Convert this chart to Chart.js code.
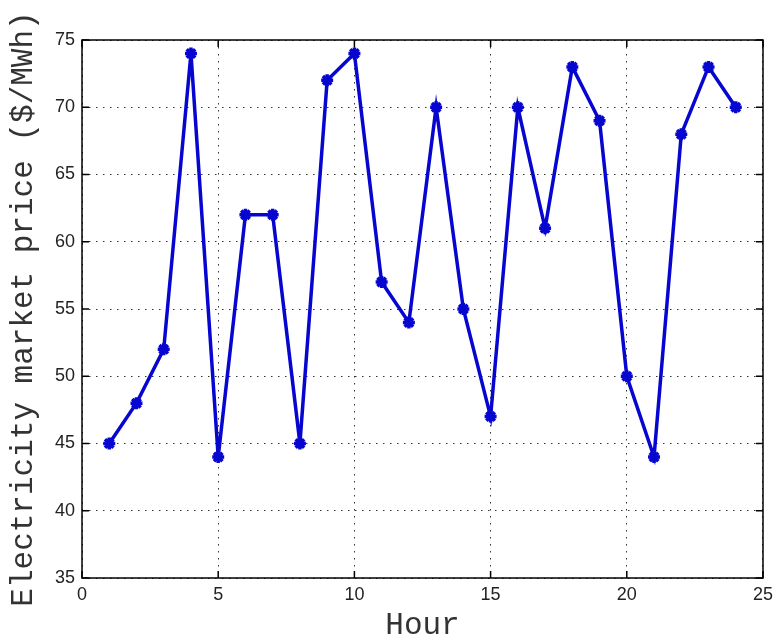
<!DOCTYPE html>
<html>
<head>
    <title>Electricity market price</title>
    <script src="https://cdn.jsdelivr.net/npm/chart.js"></script>
    <style>
        body {
            margin: 0;
            padding: 0;
            background: #fff;
        }
        canvas {
            display: block;
        }
    </style>
</head>
<body>
    <canvas id="myChart" width="779" height="644"></canvas>

    <script>
        const hours = [1, 2, 3, 4, 5, 6, 7, 8, 9, 10, 11, 12, 13, 14, 15, 16, 17, 18, 19, 20, 21, 22, 23, 24];
        const prices = [45, 48, 52, 74, 44, 62, 62, 45, 72, 74, 57, 54, 70, 55, 47, 70, 61, 73, 69, 50, 44, 68, 73, 70];
        const xTicks = [0, 5, 10, 15, 20, 25];
        const yTicks = [35, 40, 45, 50, 55, 60, 65, 70, 75];

        // MATLAB style box and inward ticks
        const boxPlugin = {
            id: 'box',
            beforeDraw(chart) {
                const ctx = chart.ctx;
                ctx.save();
                ctx.fillStyle = '#fff';
                ctx.fillRect(0, 0, chart.width, chart.height);
                ctx.restore();
            },
            afterDatasetsDraw(chart) {
                const ctx = chart.ctx;
                const a = chart.chartArea;
                const xs = chart.scales.x;
                const ys = chart.scales.y;
                const len = 7;
                ctx.save();
                ctx.strokeStyle = '#000';
                ctx.lineWidth = 1.5;
                ctx.beginPath();
                xTicks.forEach(v => {
                    const px = xs.getPixelForValue(v);
                    ctx.moveTo(px, a.bottom);
                    ctx.lineTo(px, a.bottom - len);
                    ctx.moveTo(px, a.top);
                    ctx.lineTo(px, a.top + len);
                });
                yTicks.forEach(v => {
                    const py = ys.getPixelForValue(v);
                    ctx.moveTo(a.left, py);
                    ctx.lineTo(a.left + len, py);
                    ctx.moveTo(a.right, py);
                    ctx.lineTo(a.right - len, py);
                });
                ctx.stroke();
                ctx.strokeRect(a.left, a.top, a.right - a.left, a.bottom - a.top);
                ctx.restore();
            }
        };

        const chartCanvas = document.getElementById('myChart');
        const myChart = new Chart(chartCanvas, {
            type: 'line',
            data: {
                datasets: [{
                    data: hours.map((h, i) => ({ x: h, y: prices[i] })),
                    borderColor: '#0606d0',
                    backgroundColor: '#0606d0',
                    borderWidth: 3.5,
                    pointStyle: 'star',
                    pointRadius: 6,
                    pointBorderWidth: 3.5,
                    tension: 0,
                    clip: false
                }]
            },
            options: {
                responsive: false,
                animation: false,
                layout: {
                    padding: { top: 40, right: 9, left: 0, bottom: 0 }
                },
                plugins: {
                    legend: { display: false },
                    tooltip: { enabled: false }
                },
                scales: {
                    x: {
                        type: 'linear',
                        min: 0,
                        max: 25,
                        afterBuildTicks: scale => {
                            scale.ticks = xTicks.map(v => ({ value: v }));
                        },
                        afterFit: scale => { scale.height = 66; },
                        border: { display: false, dash: [1.5, 5.5] },
                        grid: {
                            drawTicks: false,
                            color: '#333',
                            lineWidth: 1
                        },
                        ticks: {
                            padding: 6,
                            color: '#222',
                            font: { family: 'Liberation Sans', size: 18 }
                        },
                        title: {
                            display: true,
                            text: 'Hour',
                            color: '#333',
                            padding: { top: 0, bottom: 0 },
                            font: { family: 'Liberation Mono', size: 31 }
                        }
                    },
                    y: {
                        min: 35,
                        max: 75,
                        afterBuildTicks: scale => {
                            scale.ticks = yTicks.map(v => ({ value: v }));
                        },
                        afterFit: scale => { scale.width = 82; },
                        border: { display: false, dash: [1.5, 5.5] },
                        grid: {
                            drawTicks: false,
                            color: '#333',
                            lineWidth: 1
                        },
                        ticks: {
                            padding: 7,
                            color: '#222',
                            font: { family: 'Liberation Sans', size: 18 }
                        },
                        title: {
                            display: true,
                            text: 'Electricity market price ($/MWh)',
                            color: '#333',
                            padding: { top: 5, bottom: 0 },
                            font: { family: 'Liberation Mono', size: 31 }
                        }
                    }
                }
            },
            plugins: [boxPlugin]
        });
    </script>
</body>
</html>
